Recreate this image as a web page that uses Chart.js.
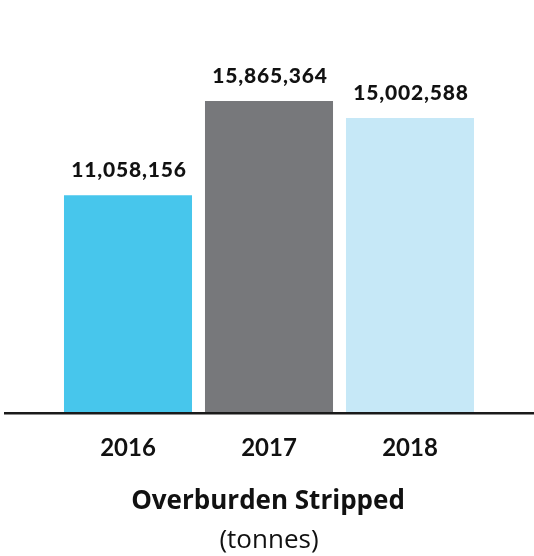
<!DOCTYPE html>
<html>
<head>
<meta charset="utf-8">
<script src="https://cdn.jsdelivr.net/npm/chart.js@4/dist/chart.umd.min.js"></script>
<style>
    html, body { margin: 0; padding: 0; background: #ffffff; }
    #wrap { width: 534px; height: 556px; position: relative; }
</style>
</head>
<body>
<div id="wrap">
    <canvas id="overburdenChart" width="534" height="556"></canvas>
</div>
<script>
const years = ['2016', '2017', '2018'];
const tonnes = [11058156, 15865364, 15002588];
const barColors = ['#47C6EC', '#77787B', '#C6E8F7'];
const chartTitle = 'Overburden Stripped';
const chartUnit = '(tonnes)';

function formatNumber(v) {
    return v.toLocaleString('en-US');
}

// value labels above bars, base line, and the title block under the axis
const decorations = {
    id: 'decorations',
    afterDatasetsDraw(chart) {
        const ctx = chart.ctx;
        const meta = chart.getDatasetMeta(0);
        const yScale = chart.scales.y;
        const zeroY = yScale.getPixelForValue(0);

        ctx.save();
        ctx.strokeStyle = '#1a1a1a';
        ctx.lineWidth = 2.5;
        ctx.beginPath();
        ctx.moveTo(4, zeroY + 1);
        ctx.lineTo(chart.width, zeroY + 1);
        ctx.stroke();

        ctx.fillStyle = '#111111';
        ctx.font = '900 21px Lato';
        ctx.letterSpacing = '0.8px';
        ctx.textAlign = 'center';
        ctx.textBaseline = 'alphabetic';
        meta.data.forEach((bar, i) => {
            ctx.fillText(formatNumber(tonnes[i]), bar.x + 1, bar.y - 18);
        });
        ctx.letterSpacing = '0px';

        ctx.font = 'bold 26px "Open Sans"';
        ctx.fillText(chartTitle, chart.width / 2 + 1, 509);
        ctx.font = '26px "Open Sans"';
        ctx.fillText(chartUnit, chart.width / 2 + 2, 548);
        ctx.restore();
    }
};

new Chart(document.getElementById('overburdenChart').getContext('2d'), {
    type: 'bar',
    data: {
        labels: years,
        datasets: [{
            data: tonnes,
            backgroundColor: barColors,
            borderWidth: 0,
            categoryPercentage: 1.0,
            barPercentage: 0.908
        }]
    },
    options: {
        responsive: false,
        animation: false,
        layout: { padding: { left: 57.5, right: 53.5, top: 20, bottom: 71 } },
        plugins: {
            legend: { display: false },
            tooltip: { enabled: false }
        },
        scales: {
            x: {
                grid: { display: false, drawTicks: false },
                border: { display: false },
                ticks: {
                    color: '#111111',
                    padding: 22,
                    font: { family: 'Lato', weight: 'bold', size: 24 }
                }
            },
            y: {
                display: false,
                min: 0,
                max: 20000000
            }
        }
    },
    plugins: [decorations]
});
</script>
</body>
</html>
